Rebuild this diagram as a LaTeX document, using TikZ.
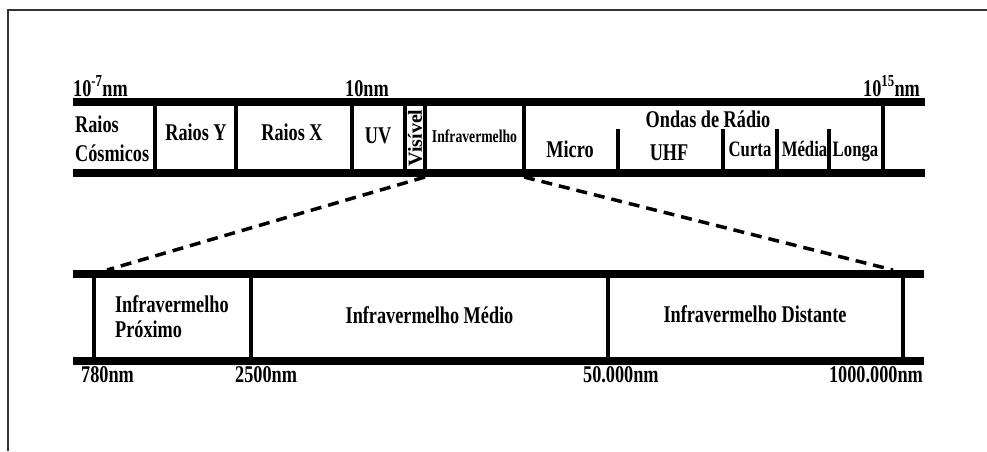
\documentclass[tikz,border=0pt]{standalone}
\usepackage{fontspec}
\setmainfont{Liberation Serif}
\usetikzlibrary{positioning}

\begin{document}
\begin{tikzpicture}[x=1pt,y=-1pt,
  bar/.style={line width=8pt},
  divider/.style={line width=4pt},
  zoomline/.style={line width=3.5pt,dash pattern=on 11pt off 7pt},
  txt/.style={font=\bfseries\fontsize{24}{29}\selectfont,xscale=.76,inner sep=0pt},
  small/.style={txt,font=\bfseries\fontsize{22}{26}\selectfont}]
  \useasboundingbox (0,0) rectangle (987,451);
  \draw[line width=2pt,black!80] (8,451) -- (8,10) -- (987,10);

  % upper band: the whole spectrum
  \draw[bar] (73,102) -- (925,102);
  \draw[bar] (73,173) -- (925,173);
  \foreach \x in {155,236,352,405,425,524,883}
    \draw[divider] (\x,106) -- (\x,169);
  \foreach \x in {618,723,777,829}
    \draw[divider] (\x,129) -- (\x,169);

  \node[txt,anchor=base west] (lo) at (73,96) {10\textsuperscript{-7}nm};
  \node[txt,anchor=base west] (mid) at (345,96) {10nm};
  \node[txt,anchor=base east] (hi) at (920,96) {10\textsuperscript{15}nm};

  \node[txt,anchor=west,align=left] (cosm) at (75,139) {Raios\\Cósmicos};
  \node[txt,anchor=base] (gama) at (196,140) {Raios Y};
  \node[txt,anchor=base] (xray) at (292,140) {Raios X};
  \node[txt,anchor=base] (uv) at (378,143) {UV};
  \node[inner sep=0pt,font=\bfseries\fontsize{20}{24}\selectfont,rotate=90] (vis) at (415,138) {Visível};
  \node[txt,font=\bfseries\fontsize{18}{22}\selectfont,anchor=base] (ir) at (474.5,142) {Infravermelho};
  \node[txt,anchor=base] (radio) at (708,127) {Ondas de Rádio};
  \node[txt,anchor=base] (micro) at (570,157) {Micro};
  \node[txt,anchor=base] (uhf) at (669,160) {UHF};
  \node[small,anchor=base] (curta) at (750,156) {Curta};
  \node[small,anchor=base] (media) at (804.5,156) {Média};
  \node[small,anchor=base] (longa) at (855.5,156) {Longa};

  % lower band: the infrared part
  \draw[bar] (73,273.5) -- (924,273.5);
  \draw[bar] (73,360.5) -- (924,360.5);
  \foreach \x in {94,251,608,903}
    \draw[divider] (\x,277) -- (\x,357);

  \node[txt,font=\bfseries\fontsize{24}{25}\selectfont,anchor=west,align=left] (near) at (115,317) {Infravermelho\\Próximo};
  \node[txt,anchor=base] (medio) at (429.5,323) {Infravermelho Médio};
  \node[txt,anchor=base] (far) at (755,322) {Infravermelho Distante};

  \node[txt,anchor=base west] (n780) at (81,382) {780nm};
  \node[txt,anchor=base west] (n2500) at (235,382) {2500nm};
  \node[txt,anchor=base west] (n50k) at (583,382) {50.000nm};
  \node[txt,anchor=base east] (n1m) at (923,382) {1000.000nm};

  % zoom lines
  \coordinate (visfoot) at (425,177);
  \coordinate (irfoot) at (524,177);
  \coordinate (nearfoot) at (107,270);
  \coordinate (farfoot) at (893,270);
  \draw[zoomline] (visfoot) -- (nearfoot);
  \draw[zoomline] (irfoot) -- (farfoot);
\end{tikzpicture}
\end{document}
